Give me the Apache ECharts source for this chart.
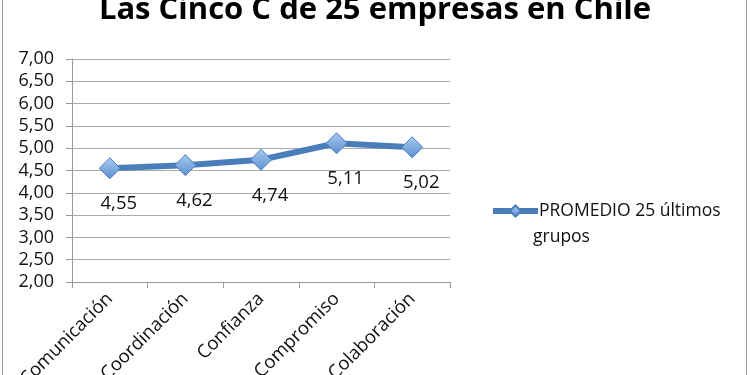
<!DOCTYPE html>
<html>
<head>
<meta charset="utf-8">
<script src="https://cdn.jsdelivr.net/npm/echarts@6/dist/echarts.min.js"></script>
<style>html,body{margin:0;padding:0;background:#fff}#c{width:750px;height:375px}</style>
</head>
<body>
<div id="c"></div>
<script>
const categories = ["Comunicación", "Coordinación", "Confianza", "Compromiso", "Colaboración"];
const promedio = [4.55, 4.62, 4.74, 5.11, 5.02];
const seriesName = "PROMEDIO 25 últimos";
const seriesName2 = "grupos";
const titleText = "Las Cinco C de 25 empresas en Chile";

const chart = echarts.init(document.getElementById('c'));
const font = "Open Sans";
chart.setOption({
  animation: false,
  backgroundColor: '#fff',
  title: {
    text: titleText, left: 'center', top: -10,
    textStyle: { fontFamily: font, fontWeight: 'bold', fontSize: 31, color: '#000' }
  },
  grid: { left: 72, right: 300, top: 59, bottom: 93, outerBoundsMode: 'none', containLabel: false },
  legend: {
    left: 485, top: 197, itemWidth: 45, itemHeight: 14, itemGap: 4,
    lineStyle: { width: 6 },
    textStyle: { fontFamily: font, fontSize: 17.5, color: '#111', padding: [0, 0, 0, -4] },
    data: [seriesName]
  },
  graphic: [
    { type: 'text', left: 533, top: 228, style: { text: seriesName2, font: '17.5px "Open Sans"', fill: '#111' } },
    { type: 'line', shape: { x1: 2.5, y1: 0, x2: 2.5, y2: 375 }, style: { stroke: '#999', lineWidth: 1 } },
    { type: 'line', shape: { x1: 746.5, y1: 0, x2: 746.5, y2: 375 }, style: { stroke: '#999', lineWidth: 1 } }
  ],
  xAxis: {
    type: 'category', data: categories, boundaryGap: true,
    axisLine: { lineStyle: { color: '#999' } },
    axisTick: { show: true, length: 6, lineStyle: { color: '#999' } },
    axisLabel: { rotate: 45, fontFamily: font, fontSize: 18.5, color: '#111', margin: 14 }
  },
  yAxis: {
    type: 'value', min: 2, max: 7, interval: 0.5,
    axisLine: { show: true, lineStyle: { color: '#999' } },
    axisTick: { show: true, length: 6, lineStyle: { color: '#999' } },
    splitLine: { lineStyle: { color: '#aaa' } },
    axisLabel: { fontFamily: font, fontSize: 18, color: '#111', margin: 18,
      formatter: v => v.toFixed(2).replace('.', ',') }
  },
  series: [{
    name: seriesName, type: 'line', data: promedio,
    lineStyle: { color: '#4A7EBB', width: 6 },
    symbol: 'diamond', symbolSize: 21,
    itemStyle: {
      color: new echarts.graphic.LinearGradient(0, 0, 0, 1, [
        { offset: 0, color: '#A9CBF0' }, { offset: 1, color: '#5B8FD0' }
      ]),
      borderColor: '#4A7EBB', borderWidth: 1
    },
    label: { show: true, position: 'bottom', distance: 15, offset: [9, 0], fontFamily: font, fontSize: 18.5, color: '#111',
      formatter: p => p.value.toFixed(2).replace('.', ',') }
  }]
});
</script>
</body>
</html>
